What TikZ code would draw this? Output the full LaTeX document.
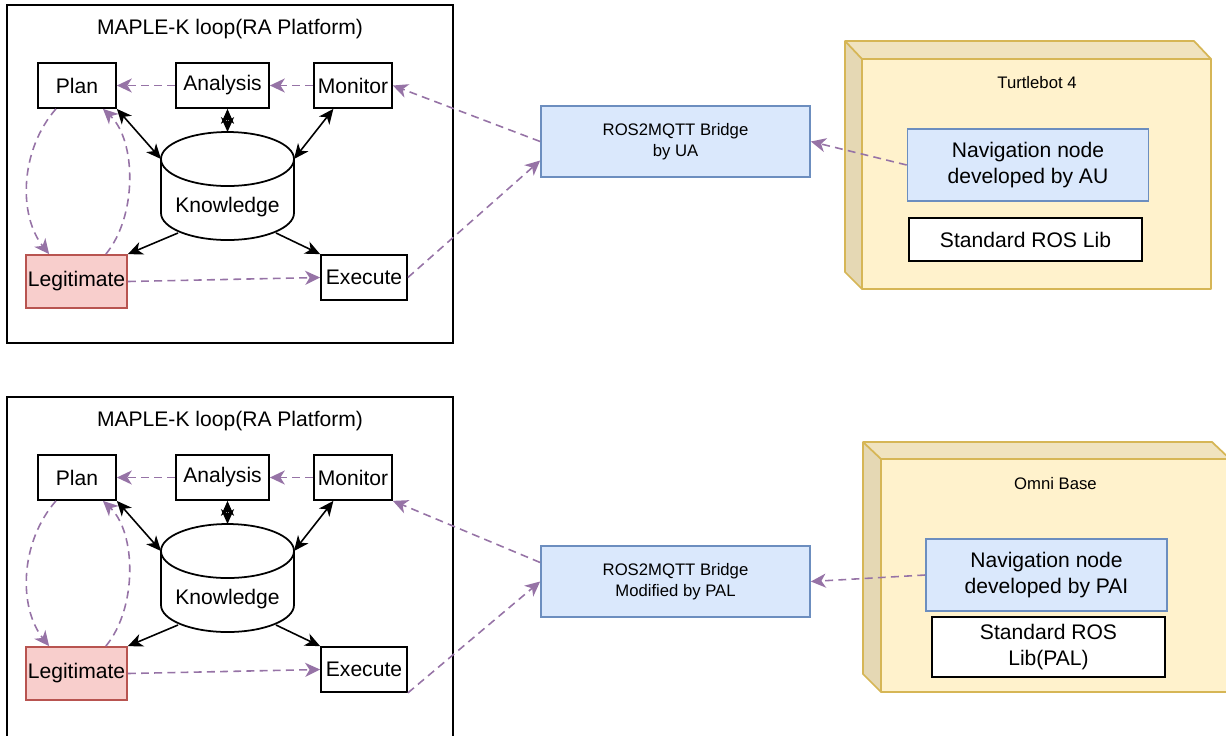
\documentclass[tikz,border=0pt]{standalone}
\usepackage{fontspec}
\setmainfont{Liberation Sans}
\usetikzlibrary{arrows.meta}
\definecolor{linkpurple}{HTML}{9673A6}
\definecolor{legitfill}{HTML}{F8CECC}
\definecolor{legitline}{HTML}{B85450}
\definecolor{bluefill}{HTML}{DAE8FC}
\definecolor{blueline}{HTML}{6C8EBF}
\definecolor{cubefill}{HTML}{FFF2CC}
\definecolor{cubeline}{HTML}{D6B656}
\definecolor{cubetop}{HTML}{F0E3BF}
\definecolor{cubeleft}{HTML}{E5D8B4}
\begin{document}
\begin{tikzpicture}[x=0.02cm,y=-0.02cm,
  bigtext/.style={font=\fontsize{12}{14.6}\selectfont},
  smalltext/.style={font=\fontsize{9.5}{11.8}\selectfont},
  box/.style={bigtext,draw,line width=1pt,fill=white,inner sep=0pt,minimum height=0.9cm},
  legitbox/.style={box,draw=legitline,fill=legitfill,minimum width=2.02cm,minimum height=1.06cm},
  bluebox/.style={draw=blueline,line width=1pt,fill=bluefill,inner sep=0pt,align=center},
  link/.style={draw=linkpurple,line width=0.9pt,dash pattern=on 4.5pt off 3pt,-{Stealth[length=8.5pt,width=8pt,inset=2.5pt]}},
  dbl/.style={line width=0.9pt,{Stealth[length=8.5pt,width=7.5pt,inset=2.5pt]}-{Stealth[length=8.5pt,width=7.5pt,inset=2.5pt]}},
  one/.style={line width=0.9pt,-{Stealth[length=8.5pt,width=7.5pt,inset=2.5pt]}},
  cube/.style={draw=cubeline,line width=1pt,line join=round}]
\useasboundingbox (0,0) rectangle (1226,735);

\draw[line width=1pt] (7,5) rectangle (453,343);
\node[bigtext] (titleA) at (230,29) {MAPLE-K loop(RA Platform)};
\node[box,minimum width=1.56cm] (planA) at (77,85.5) {Plan};
\node[box,minimum width=1.86cm] (analysisA) at (222.5,85.5) {Analysis};
\node[box,minimum width=1.56cm] (monitorA) at (353,85.5) {Monitor};
\node[legitbox] (legitA) at (76.5,281.5) {Legitimate};
\node[box,minimum width=1.72cm] (executeA) at (364,277.5) {Execute};
\filldraw[fill=white,line width=1pt] (161,159) -- (161,213) arc[start angle=180,end angle=0,x radius=66.5,y radius=27] -- (294,159) arc[start angle=0,end angle=-180,x radius=66.5,y radius=27] -- cycle;
\draw[line width=1pt] (161,159) arc[start angle=180,end angle=0,x radius=66.5,y radius=27];
\node[bigtext] (knowA) at (227.5,207) {Knowledge};
\coordinate (kwA-n) at (227.5,132);
\coordinate (kwA-nw) at (161,159);
\coordinate (kwA-ne) at (294,159);
\coordinate (kwA-sw) at (178,233);
\coordinate (kwA-se) at (276,233);
\draw[dbl] (planA.south east) -- (kwA-nw);
\draw[dbl] (kwA-n |- analysisA.south) -- (kwA-n);
\draw[dbl] (monitorA.230) -- (kwA-ne);
\draw[one] (kwA-sw) -- (legitA.north east);
\draw[one] (kwA-se) -- (executeA.north west);
\draw[link] (analysisA) -- (planA);
\draw[link] (monitorA) -- (analysisA);
\draw[link] (planA.228) .. controls (20,150) and (18,215) .. (legitA.135);
\draw[link] (legitA.43) .. controls (138,215) and (136,140) .. (planA.318);
\draw[link] (legitA.east) -- (executeA.west);

\node[bluebox,smalltext,minimum width=5.38cm,minimum height=1.42cm] (bridgeA) at (675.5,141.5) {ROS2MQTT Bridge\\by UA};
\fill[cubeleft] (845,41) -- (862,59) -- (862,289) -- (845,272) -- cycle;
\fill[cubetop] (845,41) -- (1194,41) -- (1211,59) -- (862,59) -- cycle;
\fill[cubefill] (862,59) rectangle (1211,289);
\draw[cube] (845,41) -- (1194,41) -- (1211,59) -- (1211,289) -- (862,289) -- (845,272) -- cycle;
\draw[cube] (845,41) -- (862,59) -- (1211,59) (862,59) -- (862,289);
\node[smalltext] (turtle) at (1037,83) {Turtlebot 4};
\node[bluebox,bigtext,minimum width=4.82cm,minimum height=1.44cm] (navA) at (1028,165) {Navigation node\\developed by AU};
\node[box,minimum width=4.66cm,minimum height=0.86cm] (libA) at (1025.5,239.5) {Standard ROS Lib};
\draw[link] (executeA.east) -- (bridgeA.188);
\draw[link] (bridgeA.west) -- (monitorA.east);
\draw[link] (navA.west) -- (bridgeA.east);

\draw[line width=1pt] (7,397) rectangle (453,760);
\node[bigtext] (titleB) at (230,421) {MAPLE-K loop(RA Platform)};
\node[box,minimum width=1.56cm] (planB) at (77,477.5) {Plan};
\node[box,minimum width=1.86cm] (analysisB) at (222.5,477.5) {Analysis};
\node[box,minimum width=1.56cm] (monitorB) at (353,477.5) {Monitor};
\node[legitbox] (legitB) at (76.5,673.5) {Legitimate};
\node[box,minimum width=1.72cm] (executeB) at (364,669.5) {Execute};
\filldraw[fill=white,line width=1pt] (161,551) -- (161,605) arc[start angle=180,end angle=0,x radius=66.5,y radius=27] -- (294,551) arc[start angle=0,end angle=-180,x radius=66.5,y radius=27] -- cycle;
\draw[line width=1pt] (161,551) arc[start angle=180,end angle=0,x radius=66.5,y radius=27];
\node[bigtext] (knowB) at (227.5,599) {Knowledge};
\coordinate (kwB-n) at (227.5,524);
\coordinate (kwB-nw) at (161,551);
\coordinate (kwB-ne) at (294,551);
\coordinate (kwB-sw) at (178,625);
\coordinate (kwB-se) at (276,625);
\draw[dbl] (planB.south east) -- (kwB-nw);
\draw[dbl] (kwB-n |- analysisB.south) -- (kwB-n);
\draw[dbl] (monitorB.230) -- (kwB-ne);
\draw[one] (kwB-sw) -- (legitB.north east);
\draw[one] (kwB-se) -- (executeB.north west);
\draw[link] (analysisB) -- (planB);
\draw[link] (monitorB) -- (analysisB);
\draw[link] (planB.228) .. controls (20,542) and (18,607) .. (legitB.135);
\draw[link] (legitB.43) .. controls (138,607) and (136,532) .. (planB.318);
\draw[link] (legitB.east) -- (executeB.west);

\node[bluebox,smalltext,minimum width=5.38cm,minimum height=1.42cm] (bridgeB) at (675.5,581.5) {ROS2MQTT Bridge\\Modified by PAL};
\fill[cubeleft] (863,442) -- (881,459) -- (881,692) -- (863,674) -- cycle;
\fill[cubetop] (863,442) -- (1212,442) -- (1230,459) -- (881,459) -- cycle;
\fill[cubefill] (881,459) rectangle (1230,692);
\draw[cube] (863,442) -- (1212,442) -- (1230,459) -- (1230,692) -- (881,692) -- (863,674) -- cycle;
\draw[cube] (863,442) -- (881,459) -- (1230,459) (881,459) -- (881,692);
\node[smalltext] (omni) at (1055.5,484) {Omni Base};
\node[bluebox,bigtext,minimum width=4.82cm,minimum height=1.44cm] (navB) at (1046.5,575) {Navigation node\\developed by PAI};
\node[box,align=center,minimum width=4.66cm,minimum height=1.2cm] (libB) at (1048.5,647) {Standard ROS\\Lib(PAL)};
\draw[link] (executeB.south east) -- (bridgeB.west);
\draw[link] (bridgeB.172) -- (monitorB.south east);
\draw[link] (navB.west) -- (bridgeB.east);
\end{tikzpicture}
\end{document}
